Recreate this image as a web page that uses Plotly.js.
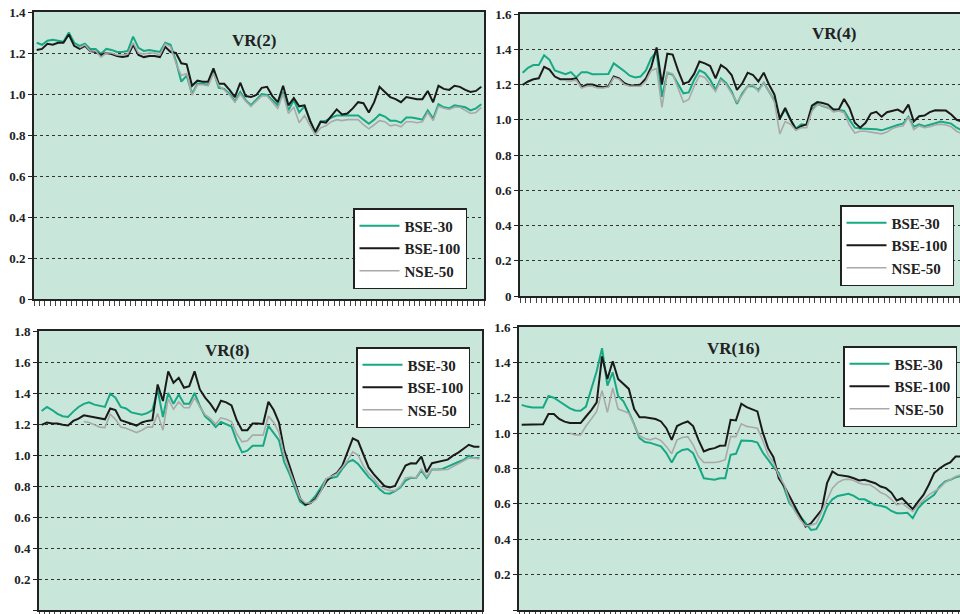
<!DOCTYPE html>
<html>
<head>
<meta charset="utf-8">
<script src="https://cdn.plot.ly/plotly-3.0.1.min.js"></script>
<style>
html,body{margin:0;padding:0;background:#fff;overflow:hidden;width:960px;height:614px;}
#chart{width:980px;height:614px;}
</style>
</head>
<body>
<div id="chart"></div>
<script>
// ---------- DATA ----------
const seriesNames = ['BSE-30', 'BSE-100', 'NSE-50'];
const panelTitles = ['VR(2)', 'VR(4)', 'VR(8)', 'VR(16)'];

const yTicks14 = [0, 0.2, 0.4, 0.6, 0.8, 1.0, 1.2, 1.4];
const yTicks16 = [0, 0.2, 0.4, 0.6, 0.8, 1.0, 1.2, 1.4, 1.6];
const yTicks18 = [0, 0.2, 0.4, 0.6, 0.8, 1.0, 1.2, 1.4, 1.6, 1.8];
const yLabels14 = ['0', '0.2', '0.4', '0.6', '0.8', '1.0', '1.2', '1.4'];
const yLabels16 = ['0', '0.2', '0.4', '0.6', '0.8', '1.0', '1.2', '1.4', '1.6'];
const yLabels18 = ['0', '0.2', '0.4', '0.6', '0.8', '1.0', '1.2', '1.4', '1.6', '1.8'];

// VR(2)
const vr2_bse30 = [
  1.25,1.24,1.26,1.265,1.26,1.255,1.30,1.25,1.235,1.245,
  1.22,1.22,1.195,1.22,1.215,1.205,1.205,1.21,1.28,1.225,
  1.21,1.215,1.21,1.205,1.25,1.24,1.16,1.06,1.09,1.00,
  1.05,1.05,1.045,1.11,1.03,1.025,1.00,0.965,1.01,0.97,
  0.945,0.97,1.00,0.995,0.97,0.945,1.01,0.92,0.97,0.91,
  0.94,0.87,0.81,0.865,0.87,0.885,0.895,0.895,0.895,0.895,
  0.895,0.875,0.855,0.875,0.90,0.89,0.87,0.87,0.86,0.885,
  0.885,0.88,0.875,0.92,0.88,0.95,0.935,0.93,0.945,0.94,
  0.935,0.92,0.93,0.95];
const vr2_bse100 = [
  1.215,1.22,1.245,1.24,1.25,1.25,1.29,1.235,1.22,1.235,
  1.21,1.205,1.19,1.20,1.195,1.185,1.18,1.185,1.24,1.19,
  1.18,1.185,1.185,1.18,1.23,1.205,1.20,1.15,1.145,1.04,
  1.065,1.06,1.06,1.125,1.05,1.05,1.02,0.985,1.055,0.99,
  0.985,0.995,1.03,1.035,0.99,0.96,1.04,0.945,0.98,0.94,
  0.945,0.87,0.815,0.865,0.86,0.895,0.925,0.90,0.905,0.93,
  0.96,0.955,0.91,0.96,1.035,1.01,0.985,0.975,0.96,0.985,
  0.98,0.975,0.975,1.015,0.96,1.04,1.025,1.02,1.04,1.035,
  1.02,1.01,1.015,1.035];
const vr2_nse50 = [
  null,null,null,null,null,null,null,null,1.225,1.24,
  1.21,1.21,1.18,1.20,1.20,1.19,1.19,1.195,1.25,1.20,
  1.195,1.20,1.20,1.19,1.245,1.23,1.15,1.09,1.10,0.995,
  1.045,1.045,1.04,1.10,1.04,1.02,0.995,0.96,1.0,0.965,
  0.94,0.965,0.99,0.99,0.96,0.93,1.0,0.905,0.935,0.86,
  0.895,0.845,0.80,0.835,0.845,0.865,0.875,0.87,0.875,0.875,
  0.875,0.85,0.83,0.85,0.87,0.865,0.845,0.85,0.84,0.865,
  0.865,0.86,0.865,0.91,0.87,0.94,0.93,0.925,0.935,0.935,
  0.92,0.905,0.91,0.935];

// VR(4)
const vr4_bse30 = [
  1.267,1.295,1.31,1.31,1.366,1.34,1.28,1.27,1.258,1.27,
  1.24,1.27,1.27,1.258,1.258,1.258,1.26,1.32,1.30,1.275,
  1.25,1.24,1.245,1.28,1.35,1.385,1.13,1.265,1.255,1.20,
  1.15,1.155,1.226,1.28,1.265,1.226,1.17,1.235,1.207,1.16,
  1.09,1.15,1.19,1.19,1.17,1.21,1.16,1.11,1.01,1.058,
  1.0,0.95,0.974,0.97,1.058,1.09,1.077,1.067,1.058,1.055,
  1.05,1.0,0.955,0.95,0.95,0.948,0.946,0.94,0.95,0.964,
  0.97,0.978,1.017,0.96,0.974,0.964,0.97,0.98,0.99,0.985,
  0.978,0.955,0.94,0.93];
const vr4_bse100 = [
  1.198,1.217,1.23,1.235,1.30,1.285,1.245,1.23,1.23,1.23,
  1.235,1.185,1.20,1.20,1.19,1.185,1.19,1.245,1.235,1.207,
  1.195,1.195,1.20,1.235,1.30,1.41,1.20,1.375,1.37,1.28,
  1.205,1.215,1.26,1.33,1.32,1.305,1.235,1.31,1.29,1.254,
  1.17,1.207,1.267,1.254,1.217,1.267,1.198,1.142,1.006,1.067,
  1.0,0.946,0.964,0.974,1.08,1.10,1.095,1.086,1.058,1.058,
  1.118,1.067,0.983,0.955,0.983,1.035,1.045,1.017,1.043,1.049,
  1.058,1.04,1.086,0.99,1.02,1.024,1.043,1.054,1.054,1.052,
  1.03,1.0,0.99,0.98];
const vr4_nse50 = [
  null,null,null,null,null,null,null,null,1.22,1.22,
  1.225,1.18,1.19,1.19,1.18,1.18,1.185,1.24,1.23,1.20,
  1.19,1.19,1.19,1.22,1.28,1.29,1.07,1.27,1.26,1.18,
  1.10,1.115,1.19,1.25,1.24,1.20,1.16,1.225,1.20,1.15,
  1.10,1.14,1.19,1.20,1.16,1.21,1.16,1.10,0.92,0.99,
  0.975,0.94,0.955,0.955,1.05,1.085,1.08,1.07,1.045,1.05,
  1.04,0.97,0.925,0.935,0.935,0.93,0.925,0.92,0.93,0.95,
  0.96,0.965,1.015,0.945,0.965,0.955,0.96,0.97,0.975,0.97,
  0.96,0.935,0.92,0.91];

// VR(8)
const vr8_bse30 = [
  1.284,1.31,1.29,1.265,1.25,1.245,1.28,1.31,1.33,1.34,
  1.325,1.316,1.31,1.395,1.37,1.31,1.30,1.275,1.265,1.26,
  1.27,1.29,1.42,1.245,1.40,1.33,1.39,1.33,1.33,1.40,
  1.316,1.25,1.22,1.18,1.214,1.20,1.184,1.09,1.017,1.028,
  1.06,1.06,1.06,1.188,1.145,1.096,0.953,0.878,0.79,0.70,
  0.675,0.70,0.74,0.797,0.846,0.852,0.86,0.91,0.953,0.968,
  0.942,0.90,0.857,0.825,0.782,0.754,0.75,0.767,0.79,0.835,
  0.852,0.852,0.90,0.852,0.906,0.906,0.91,0.925,0.942,0.955,
  0.968,0.995,0.98,0.98];
const vr8_bse100 = [
  1.194,1.21,1.203,1.203,1.195,1.19,1.22,1.235,1.256,1.25,
  1.245,1.24,1.23,1.30,1.29,1.225,1.214,1.20,1.19,1.21,
  1.22,1.225,1.455,1.348,1.54,1.466,1.498,1.434,1.444,1.54,
  1.423,1.37,1.33,1.28,1.35,1.34,1.32,1.224,1.16,1.16,
  1.203,1.203,1.20,1.344,1.29,1.21,1.03,0.93,0.83,0.72,
  0.68,0.69,0.72,0.776,0.83,0.865,0.885,0.93,1.02,1.107,
  1.09,1.0,0.92,0.875,0.835,0.80,0.79,0.80,0.867,0.932,
  0.947,0.945,0.99,0.889,0.947,0.955,0.96,0.97,0.996,1.015,
  1.04,1.066,1.053,1.053];
const vr8_nse50 = [
  null,null,null,null,null,null,null,null,1.216,1.21,
  1.195,1.18,1.177,1.263,1.23,1.18,1.173,1.16,1.145,1.16,
  1.18,1.18,1.267,1.16,1.363,1.295,1.344,1.305,1.305,1.37,
  1.31,1.26,1.235,1.20,1.24,1.23,1.216,1.135,1.085,1.092,
  1.128,1.128,1.128,1.252,1.21,1.145,1.0,0.90,0.81,0.72,
  0.69,0.69,0.712,0.77,0.846,0.865,0.88,0.92,0.964,1.02,
  1.0,0.93,0.88,0.846,0.803,0.78,0.77,0.77,0.797,0.852,
  0.857,0.852,0.91,0.861,0.904,0.904,0.904,0.906,0.925,0.945,
  0.96,0.98,0.98,0.975];

// VR(16)
const vr16_bse30 = [
  1.16,1.15,1.145,1.145,1.145,1.21,1.20,1.18,1.16,1.14,
  1.128,1.126,1.15,1.255,1.35,1.48,1.268,1.343,1.21,1.18,
  1.12,1.05,0.972,0.95,0.945,0.935,0.925,0.887,0.834,0.887,
  0.905,0.91,0.887,0.817,0.745,0.74,0.736,0.745,0.745,0.877,
  0.883,0.958,0.958,0.955,0.947,0.89,0.85,0.808,0.774,0.694,
  0.604,0.57,0.53,0.49,0.453,0.457,0.51,0.585,0.626,0.645,
  0.65,0.657,0.645,0.626,0.626,0.61,0.594,0.589,0.581,0.56,
  0.547,0.547,0.55,0.519,0.575,0.608,0.63,0.651,0.698,0.726,
  0.736,0.75,0.758,0.76];
const vr16_bse100 = [
  1.047,1.047,1.047,1.047,1.05,1.108,1.108,1.08,1.065,1.057,
  1.057,1.057,1.094,1.13,1.174,1.434,1.306,1.406,1.306,1.28,
  1.25,1.136,1.09,1.09,1.085,1.08,1.066,1.028,0.962,1.04,
  1.055,1.066,1.04,0.962,0.896,0.909,0.915,0.928,0.93,1.075,
  1.072,1.166,1.147,1.135,1.123,1.004,0.915,0.864,0.745,0.70,
  0.642,0.585,0.528,0.472,0.49,0.53,0.566,0.717,0.783,0.764,
  0.76,0.755,0.745,0.732,0.736,0.725,0.717,0.698,0.689,0.664,
  0.619,0.632,0.60,0.57,0.613,0.651,0.708,0.774,0.80,0.82,
  0.834,0.868,0.868,0.868];
const vr16_nse50 = [
  null,null,null,null,null,null,null,null,null,1.0,
  0.99,0.99,1.04,1.08,1.123,1.24,1.117,1.255,1.136,1.125,
  1.113,1.047,0.985,0.97,0.962,0.972,0.958,0.925,0.883,0.962,
  0.975,0.98,0.934,0.868,0.834,0.834,0.834,0.84,0.85,0.98,
  0.98,1.053,1.038,1.033,1.028,0.958,0.877,0.834,0.76,0.708,
  0.619,0.557,0.51,0.475,0.48,0.49,0.557,0.632,0.689,0.72,
  0.736,0.74,0.732,0.717,0.71,0.708,0.689,0.664,0.651,0.626,
  0.594,0.604,0.58,0.557,0.594,0.623,0.651,0.67,0.689,0.72,
  0.736,0.755,0.764,0.764];

// ---------- CHART ----------
const W = 980, H = 614;
const px = v => v / W;
const py = v => 1 - v / H;
const bold = s => '<b>' + s + '</b>';

const colors = ['#17a884', '#1a1a1a', '#a9a9a9'];
const widths = [2, 2, 1.6];
const serif = 'Liberation Serif, Times New Roman, serif';

const panels = [
  {title: panelTitles[0], data: [vr2_bse30, vr2_bse100, vr2_nse50], ymax: 1.4, tv: yTicks14, tt: yLabels14,
   xd: [34, 484], yd: [299, 12], tpos: [254, 40], leg: [353, 208]},
  {title: panelTitles[1], data: [vr4_bse30, vr4_bse100, vr4_nse50], ymax: 1.6, tv: yTicks16, tt: yLabels16,
   xd: [520, 970], yd: [296, 14], tpos: [834, 33], leg: [840, 205]},
  {title: panelTitles[2], data: [vr8_bse30, vr8_bse100, vr8_nse50], ymax: 1.8, tv: yTicks18, tt: yLabels18,
   xd: [39, 482], yd: [610, 331], tpos: [227, 350], leg: [356, 347]},
  {title: panelTitles[3], data: [vr16_bse30, vr16_bse100, vr16_nse50], ymax: 1.6, tv: yTicks16, tt: yLabels16,
   xd: [519, 969], yd: [610, 327], tpos: [733, 348], leg: [843, 346]}
];

const traces = [];
const layout = {
  width: W, height: H,
  margin: {l: 0, r: 0, t: 0, b: 0},
  paper_bgcolor: '#ffffff',
  plot_bgcolor: '#c9e6da',
  showlegend: true,
  annotations: []
};

panels.forEach((p, k) => {
  const sfx = k === 0 ? '' : String(k + 1);
  const n = p.data[0].length;
  const xs = p.data[0].map((_, i) => i);
  p.data.forEach((vals, s) => {
    traces.push({
      x: xs, y: vals, type: 'scatter', mode: 'lines',
      name: bold(seriesNames[s]),
      xaxis: 'x' + sfx, yaxis: 'y' + sfx,
      legend: 'legend' + sfx,
      line: {color: colors[s], width: widths[s]},
      connectgaps: false,
      hoverinfo: 'skip'
    });
  });
  layout['xaxis' + sfx] = {
    domain: [px(p.xd[0]), px(p.xd[1])],
    anchor: 'y' + sfx,
    range: [-0.5, n - 0.5],
    showgrid: false, zeroline: false,
    showline: true, mirror: true, linecolor: '#222', linewidth: 1.8,
    tickmode: 'linear', tick0: -0.5, dtick: 1,
    ticks: 'outside', ticklen: 5, tickwidth: 1, tickcolor: '#444',
    showticklabels: false, fixedrange: true
  };
  layout['yaxis' + sfx] = {
    domain: [py(p.yd[0]), py(p.yd[1])],
    anchor: 'x' + sfx,
    range: [0, p.ymax],
    tickmode: 'array', tickvals: p.tv, ticktext: p.tt.map(bold),
    showgrid: true, gridcolor: '#333', gridwidth: 1, griddash: 'dot',
    zeroline: false,
    showline: true, mirror: true, linecolor: '#222', linewidth: 1.8,
    ticks: 'outside', ticklen: 4, tickwidth: 1, tickcolor: '#222',
    tickfont: {family: serif, size: 13, color: '#222'},
    fixedrange: true
  };
  layout['legend' + sfx] = {
    x: px(p.leg[0]), y: py(p.leg[1]), xanchor: 'left', yanchor: 'top',
    xref: 'paper', yref: 'paper',
    bgcolor: '#ffffff', bordercolor: '#222', borderwidth: 1.5,
    font: {family: serif, size: 15, color: '#222'},
    tracegroupgap: 0, itemwidth: 40, traceorder: 'normal'
  };
  layout.annotations.push({
    text: bold(p.title), xref: 'paper', yref: 'paper',
    x: px(p.tpos[0]), y: py(p.tpos[1]), xanchor: 'center', yanchor: 'middle',
    showarrow: false,
    font: {family: serif, size: 17, color: '#222'}
  });
});

Plotly.newPlot('chart', traces, layout, {staticPlot: true, displayModeBar: false});
</script>
</body>
</html>
